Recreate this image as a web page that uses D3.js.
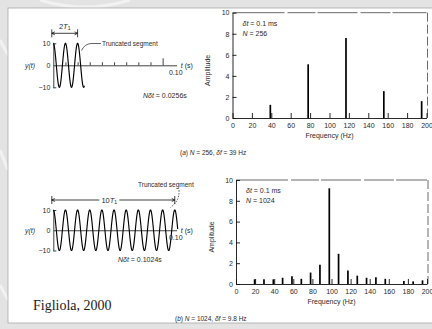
<!DOCTYPE html>
<html>
<head>
<meta charset="utf-8">
<script src="https://cdn.jsdelivr.net/npm/d3@7"></script>
<style>
  body { margin: 0; background: #e3e3e3; }
  svg { display: block; font-family: "Liberation Sans", Arial, sans-serif; }
</style>
</head>
<body>
<svg id="chart" width="432" height="329"></svg>
<script>
// spectrum (a), N = 256, df = 39 Hz
const freqA = [39, 78, 117, 156, 195];
const ampA = [1.25, 5.1, 7.6, 2.55, 1.6];

// spectrum (b), N = 1024, df = 9.8 Hz
const freqB = [19.5, 29.3, 39.1, 48.8, 58.6, 68.4, 78.1, 87.9, 97.7, 107.4,
  117.2, 127.0, 136.7, 146.5, 156.3, 175.8, 185.5, 195.3];
const ampB = [0.45, 0.45, 0.45, 0.6, 0.75, 0.5, 1.1, 1.85, 9.2, 2.9,
  1.3, 0.8, 0.6, 0.65, 0.5, 0.3, 0.25, 0.35];

const freqTicks = [0, 20, 40, 60, 80, 100, 120, 140, 160, 180, 200];
const ampTicks = [0, 2, 4, 6, 8, 10];
const yTicks = [-10, 0, 10];
const yTickLabels = ['\u221210', '0', '10'];
const timeTicksA = [0.01, 0.02, 0.03, 0.04, 0.05, 0.06, 0.07, 0.08, 0.09];

// sampled signal y(t) = 10 cos(2*pi*100*t), dt = 0.1 ms
const signalAmp = 10;
const signalFreq = 100;
const sampleDt = 0.0001;
const samplesA = 256;
const samplesB = 1024;

const svg = d3.select('#chart');
const TEXT = '#2a2a2a';

// page background + scan frame
svg.append('rect').attr('width', 432).attr('height', 329).attr('fill', '#e3e3e3');
const wm = svg.append('g').attr('fill', 'none').attr('stroke', '#f2f2f2').attr('stroke-width', 3);
wm.append('path').attr('d', 'M40,0 Q85,14 130,0');
wm.append('path').attr('d', 'M0,150 L8,170 M0,285 L8,300 M0,40 L8,55');
svg.append('rect')
  .attr('x', 8).attr('y', 8).attr('width', 430).attr('height', 315)
  .attr('fill', '#fff').attr('stroke', '#a9a9a9').attr('stroke-width', 0.8);

function drawSpectrum(freqs, amps, xr, yr, note, caption, capX, ampLabelX) {
  const x = d3.scaleLinear().domain([0, 200]).range(xr);
  const y = d3.scaleLinear().domain([0, 10]).range(yr);
  const g = svg.append('g');

  // frame: top and right edges look broken in the scan
  g.append('line')
    .attr('x1', x(0)).attr('x2', x(200)).attr('y1', y(10)).attr('y2', y(10))
    .attr('stroke', '#444').attr('stroke-width', 0.8)
    .attr('stroke-dasharray', '52,3,28,2,40,3,30,2');
  g.append('line')
    .attr('x1', x(200) + 1).attr('x2', x(200) + 1).attr('y1', y(10)).attr('y2', y(0))
    .attr('stroke', '#444').attr('stroke-width', 0.8)
    .attr('stroke-dasharray', '9,3');

  const xAxis = g.append('g')
    .attr('transform', `translate(0,${y(0)})`)
    .call(d3.axisBottom(x).tickValues(freqTicks).tickSizeInner(-5).tickSizeOuter(0).tickPadding(5));
  const yAxis = g.append('g')
    .attr('transform', `translate(${x(0)},0)`)
    .call(d3.axisLeft(y).tickValues(ampTicks).tickSizeInner(-4).tickSizeOuter(0).tickPadding(3));
  [xAxis, yAxis].forEach((a) => {
    a.attr('font-family', null).attr('font-size', 7);
    a.selectAll('path, line').attr('stroke', '#111').attr('stroke-width', 0.9);
    a.selectAll('text').attr('fill', TEXT);
  });

  g.selectAll('line.bar')
    .data(freqs)
    .enter()
    .append('line')
    .attr('class', 'bar')
    .attr('x1', (d) => x(d)).attr('x2', (d) => x(d))
    .attr('y1', y(0)).attr('y2', (d, i) => y(amps[i]))
    .attr('stroke', '#000').attr('stroke-width', 1.7);

  const n = g.append('text').attr('x', x(0) + 10).attr('y', y(10) + 13)
    .attr('font-size', 7).attr('fill', TEXT);
  n.append('tspan').attr('font-style', 'italic').text('\u03b4t');
  n.append('tspan').text(' = 0.1 ms');
  const n2 = g.append('text').attr('x', x(0) + 10).attr('y', y(10) + 23)
    .attr('font-size', 7).attr('fill', TEXT);
  n2.append('tspan').attr('font-style', 'italic').text('N');
  n2.append('tspan').text(' = ' + note);

  g.append('text')
    .attr('x', (xr[0] + xr[1]) / 2).attr('y', y(0) + 20)
    .attr('text-anchor', 'middle').attr('font-size', 7).attr('fill', TEXT)
    .text('Frequency (Hz)');
  g.append('text')
    .attr('transform', `translate(${ampLabelX},${(yr[0] + yr[1]) / 2 + 5}) rotate(-90)`)
    .attr('text-anchor', 'middle').attr('font-size', 7).attr('fill', TEXT)
    .text('Amplitude');

  const c = g.append('text').attr('x', capX).attr('y', y(0) + 37)
    .attr('font-size', 6.5).attr('fill', TEXT);
  c.append('tspan').text('(');
  c.append('tspan').attr('font-style', 'italic').text(caption[0]);
  c.append('tspan').text(') ');
  c.append('tspan').attr('font-style', 'italic').text('N');
  c.append('tspan').text(' = ' + caption[1] + ', ');
  c.append('tspan').attr('font-style', 'italic').text('\u03b4f');
  c.append('tspan').text(' = ' + caption[2] + ' Hz');
}

function drawWave(samples, yr, opts) {
  const x = d3.scaleLinear().domain([0, 0.1015]).range([53.3, 176.6]);
  const y = d3.scaleLinear().domain([-10, 10]).range(yr);
  const g = svg.append('g');
  const period = 1 / signalFreq;

  // zero line / time axis
  const tAxis = g.append('g')
    .attr('transform', `translate(0,${y(0)})`)
    .call(d3.axisBottom(x).tickValues(opts.timeTicks).tickSizeInner(-3).tickSizeOuter(0).tickFormat(''));
  tAxis.selectAll('path, line').attr('stroke', '#111').attr('stroke-width', 0.8);
  if (opts.tallTick) {
    tAxis.select('.tick:last-of-type line').attr('y2', -7);
  }

  const yAxis = g.append('g')
    .attr('transform', `translate(${x(0)},0)`)
    .call(d3.axisLeft(y).tickValues(yTicks).tickSizeInner(-3).tickSizeOuter(0).tickPadding(3)
      .tickFormat((d, i) => yTickLabels[i]));
  yAxis.attr('font-family', null).attr('font-size', 7);
  yAxis.selectAll('path, line').attr('stroke', '#111').attr('stroke-width', 0.8);
  yAxis.select('.tick:nth-of-type(2) line').remove();
  yAxis.selectAll('text').attr('fill', TEXT);

  const pts = d3.range(samples + 1).map((k) => {
    const t = k * sampleDt;
    return [t, signalAmp * Math.cos(2 * Math.PI * signalFreq * t)];
  });
  g.append('path')
    .datum(pts)
    .attr('fill', 'none').attr('stroke', '#000').attr('stroke-width', 1.15)
    .attr('d', d3.line().x((d) => x(d[0])).y((d) => y(d[1])));

  g.append('text').attr('x', 25).attr('y', y(0) + 2.5)
    .attr('font-size', 7).attr('fill', TEXT).attr('font-style', 'italic')
    .text('y(t)');

  const tl = g.append('text').attr('x', x(0.1) + 6).attr('y', y(0) + 2.5)
    .attr('font-size', 7).attr('fill', TEXT);
  tl.append('tspan').attr('font-style', 'italic').text('t');
  tl.append('tspan').text(' (s)');
  g.append('text').attr('x', x(0.1) + 1).attr('y', y(0) + 10)
    .attr('text-anchor', 'middle').attr('font-size', 7).attr('fill', TEXT)
    .text('0.10');

  const nl = g.append('text').attr('x', opts.ndtX).attr('y', yr[0] + 11)
    .attr('font-size', 7).attr('fill', TEXT);
  nl.append('tspan').attr('font-style', 'italic').text('N\u03b4t');
  nl.append('tspan').text(' = ' + d3.format('.4f')(samples * sampleDt) + 's');

  // period bracket
  const bx0 = x(0) - 1.5;
  const bx1 = x(opts.periods * period);
  const by = opts.bracketY;
  const bk = g.append('g').attr('stroke', '#111').attr('stroke-width', 0.8);
  bk.append('line').attr('x1', bx0).attr('x2', bx0).attr('y1', by - 4).attr('y2', by + 4);
  bk.append('line').attr('x1', bx1).attr('x2', bx1).attr('y1', by - 4).attr('y2', by + 4);
  const lab = g.append('text').attr('font-size', 7.5).attr('fill', TEXT)
    .attr('text-anchor', 'middle');
  lab.append('tspan').text(opts.periods);
  lab.append('tspan').attr('font-style', 'italic').text('T');
  lab.append('tspan').attr('font-size', 5).attr('dy', 1.5).text('1');
  if (opts.labelInline) {
    const mid = (bx0 + bx1) / 2 - 4;
    bk.append('line').attr('x1', bx0).attr('x2', mid - 10).attr('y1', by).attr('y2', by);
    bk.append('line').attr('x1', mid + 10).attr('x2', bx1).attr('y1', by).attr('y2', by);
    lab.attr('x', mid).attr('y', by + 2.5);
  } else {
    bk.append('line').attr('x1', bx0).attr('x2', bx1).attr('y1', by).attr('y2', by);
    lab.attr('x', (bx0 + bx1) / 2).attr('y', by - 4.5);
  }
  const ah = d3.path();
  ah.moveTo(bx0 + 3, by - 1.5); ah.lineTo(bx0, by); ah.lineTo(bx0 + 3, by + 1.5);
  ah.moveTo(bx1 - 3, by - 1.5); ah.lineTo(bx1, by); ah.lineTo(bx1 - 3, by + 1.5);
  bk.append('path').attr('d', ah.toString()).attr('fill', 'none');

  // truncated segment note
  g.append('text').attr('x', opts.truncX).attr('y', opts.truncY)
    .attr('font-size', 6.5).attr('fill', TEXT).text('Truncated segment');
  g.append('path').attr('d', opts.truncPath)
    .attr('fill', 'none').attr('stroke', '#222').attr('stroke-width', 0.7)
    .attr('stroke-dasharray', opts.truncDash || null);
}

drawWave(samplesA, [87.3, 43.3], {
  timeTicks: timeTicksA, tallTick: true, ndtX: 143, periods: 2, bracketY: 33.3,
  labelInline: false, truncX: 102, truncY: 45.5,
  truncPath: 'M101,43.5 L91,43.5 Q84.5,44 81.5,50.5'
});
drawWave(samplesB, [250.5, 210], {
  timeTicks: [], tallTick: false, ndtX: 118, periods: 10, bracketY: 200,
  labelInline: true, truncX: 138, truncY: 187,
  truncPath: 'M179,190 C179.5,199 176,203 170.5,207.5', truncDash: '1.6,1.2'
});

drawSpectrum(freqA, ampA, [232.5, 426.5], [118, 12.7], '256', ['a', '256', '39'], 180, 210);
drawSpectrum(freqB, ampB, [236, 427], [284, 180], '1024', ['b', '1024', '9.8'], 175, 214);

svg.append('text')
  .attr('x', 33).attr('y', 310)
  .attr('font-family', '"Liberation Serif", "Times New Roman", serif')
  .attr('font-size', 14).attr('fill', '#1a1a1a')
  .text('Figliola, 2000');
</script>
</body>
</html>
